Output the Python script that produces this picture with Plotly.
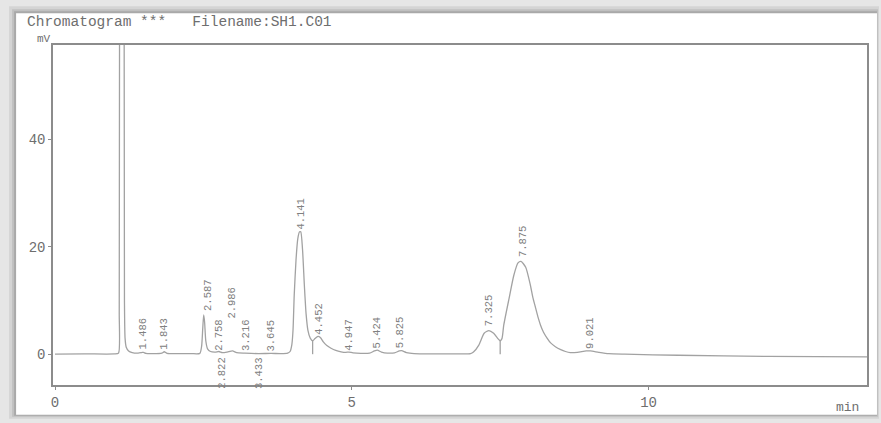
import plotly.graph_objects as go

# ---------------- data ----------------
# chromatogram trace: retention time (min) and signal (mV)
trace_time = [
    0.00, 0.50, 1.00, 1.070, 1.082, 1.090, 1.130, 1.162, 1.170, 1.18, 1.20, 1.24, 1.30, 1.40,
    1.46, 1.49, 1.53, 1.65, 1.80, 1.84, 1.89, 2.10, 2.30, 2.44, 2.47, 2.49, 2.505, 2.52, 2.54,
    2.57, 2.62, 2.70, 2.76, 2.82, 2.90, 2.99, 3.06, 3.20, 3.43, 3.64, 3.80, 3.92,
    3.96, 3.99, 4.01, 4.03, 4.06, 4.09, 4.12, 4.14, 4.17, 4.20, 4.23, 4.26, 4.30, 4.34,
    4.38, 4.43, 4.47, 4.52, 4.58, 4.65, 4.73, 4.82, 4.90, 4.95, 5.02, 5.15, 5.30, 5.38,
    5.43, 5.50, 5.60, 5.72, 5.80, 5.84, 5.92, 6.05, 6.40, 6.80, 7.00, 7.05, 7.14, 7.23,
    7.31, 7.39, 7.47, 7.50, 7.53, 7.56, 7.65, 7.73, 7.80, 7.85, 7.93, 8.01, 8.05, 8.10,
    8.14, 8.18, 8.23, 8.29, 8.35, 8.43, 8.52, 8.60, 8.68, 8.80, 8.95, 9.02, 9.16, 9.33,
    9.60, 10.50, 12.00, 13.68,
]
trace_mv = [
    0.00, 0.05, 0.05, 0.20, 8.0, 90.0, 140.0, 90.0, 10.0, 3.0, 1.3, 0.6, 0.3, 0.2,
    0.3, 0.35, 0.15, 0.10, 0.20, 0.45, 0.15, 0.10, 0.10, 0.15, 1.5, 5.0, 7.3, 6.0, 2.5,
    1.0, 0.5, 0.4, 0.5, 0.3, 0.4, 0.6, 0.3, 0.2, 0.1, 0.15, 0.1, 0.2,
    0.5, 1.8, 4.5, 11.0, 17.5, 21.5, 22.8, 22.8, 19.5, 13.0, 7.5, 4.5, 3.0, 2.5,
    2.9, 3.3, 3.1, 2.3, 1.6, 1.1, 0.7, 0.45, 0.35, 0.4, 0.25, 0.15, 0.2, 0.6,
    0.75, 0.4, 0.2, 0.25, 0.6, 0.65, 0.3, 0.1, 0.05, 0.05, 0.1, 0.4, 1.7, 3.9,
    4.4, 3.9, 2.8, 2.5, 2.9, 5.4, 10.4, 14.7, 17.0, 17.3, 16.2, 12.8, 10.6, 8.5,
    6.8, 5.4, 4.1, 3.0, 2.1, 1.4, 0.85, 0.5, 0.3, 0.35, 0.6, 0.6, 0.35, 0.1,
    0.0, -0.2, -0.4, -0.5,
]

# integration drop lines (valley times, mV at the valley)
drop_time = [4.34, 7.50]
drop_mv = [2.5, 2.5]

# peak retention-time labels
peak_rt = [1.486, 1.843, 2.587, 2.758, 2.822, 2.986, 3.216, 3.433, 3.645,
           4.141, 4.452, 4.947, 5.424, 5.825, 7.325, 7.875, 9.021]
peak_label = ["1.486", "1.843", "2.587", "2.758", "2.822", "2.986", "3.216", "3.433", "3.645",
              "4.141", "4.452", "4.947", "5.424", "5.825", "7.325", "7.875", "9.021"]
# signal level (mV) at which each label is printed
label_mv = [0.55, 0.55, 7.6, 0.2, -0.2, 6.3, 0.2, -0.2, 0.2,
            22.8, 3.3, 0.2, 0.7, 0.7, 4.8, 17.8, 0.7]
label_below = [False, False, False, False, True, False, False, True, False,
               False, False, False, False, False, False, False, False]

x_ticks = [0, 5, 10]
y_ticks = [0, 20, 40]

# ---------------- figure ----------------
W, H = 881, 423
ML, MR, MT, MB = 53, 12, 45, 36
PW, PH = W - ML - MR, H - MT - MB


def px(x):
    return (x - ML) / PW


def py(y):
    return (H - MB - y) / PH


MONO = "Liberation Mono, DejaVu Sans Mono, monospace"
LINE = "#a2a2a2"
TXT = "#6e6e6e"

fig = go.Figure()
fig.add_trace(go.Scatter(x=trace_time, y=trace_mv, mode="lines",
                         line=dict(color=LINE, width=1.3, shape="spline", smoothing=0.6),
                         hoverinfo="skip", showlegend=False))
for t, v in zip(drop_time, drop_mv):
    fig.add_trace(go.Scatter(x=[t, t], y=[0, v], mode="lines",
                             line=dict(color=LINE, width=1.3), hoverinfo="skip",
                             showlegend=False))

annotations = []
for t, lab, v, below in zip(peak_rt, peak_label, label_mv, label_below):
    annotations.append(dict(
        x=t, y=v, xref="x", yref="y", text=lab, showarrow=False, textangle=-90,
        xanchor="center", yanchor="top" if below else "bottom",
        font=dict(family=MONO, size=10.5, color="#808080")))

annotations += [
    dict(x=px(25), y=py(22), xref="paper", yref="paper", showarrow=False,
         text="Chromatogram ***   Filename:SH1.C01", xanchor="left", yanchor="middle",
         font=dict(family=MONO, size=14.5, color=TXT)),
    dict(x=px(35), y=py(38.5), xref="paper", yref="paper", showarrow=False,
         text="mV", xanchor="left", yanchor="middle",
         font=dict(family=MONO, size=11, color=TXT)),
    dict(x=px(836), y=py(410), xref="paper", yref="paper", showarrow=False,
         text="min", xanchor="left", yanchor="middle",
         font=dict(family=MONO, size=13, color=TXT)),
]

shapes = [
    dict(type="rect", xref="paper", yref="paper", layer="below",
         x0=px(9), x1=px(881), y0=py(421), y1=py(6),
         fillcolor="#d4d4d4", line=dict(width=0)),
    dict(type="rect", xref="paper", yref="paper", layer="below",
         x0=px(12), x1=px(880), y0=py(419), y1=py(9),
         fillcolor="#c0c0c0", line=dict(width=0)),
    dict(type="rect", xref="paper", yref="paper", layer="below",
         x0=px(14), x1=px(879), y0=py(418), y1=py(11),
         fillcolor="#a9a9a9", line=dict(width=0)),
    dict(type="rect", xref="paper", yref="paper", layer="below",
         x0=px(16), x1=px(879), y0=py(417), y1=py(13),
         fillcolor="white", line=dict(width=0)),
]

fig.update_layout(
    width=W, height=H,
    margin=dict(l=ML, r=MR, t=MT, b=MB, pad=0),
    paper_bgcolor="#e6e6e6", plot_bgcolor="white",
    showlegend=False,
    annotations=annotations, shapes=shapes,
    xaxis=dict(range=[-0.034, 13.68], tickvals=x_ticks, ticktext=[str(v) for v in x_ticks],
               showgrid=False, zeroline=False, showline=True, mirror=True,
               linecolor="#8c8c8c", linewidth=1.5, ticks="outside", ticklen=3,
               tickcolor="#8c8c8c", tickfont=dict(family=MONO, size=14, color=TXT)),
    yaxis=dict(range=[-5.74, 57.6], tickvals=y_ticks, ticktext=[str(v) for v in y_ticks],
               showgrid=False, zeroline=False, showline=True, mirror=True,
               linecolor="#8c8c8c", linewidth=1.5, ticks="outside", ticklen=3,
               tickcolor="#8c8c8c", tickfont=dict(family=MONO, size=14, color=TXT)),
)

fig.write_html("out.html")
